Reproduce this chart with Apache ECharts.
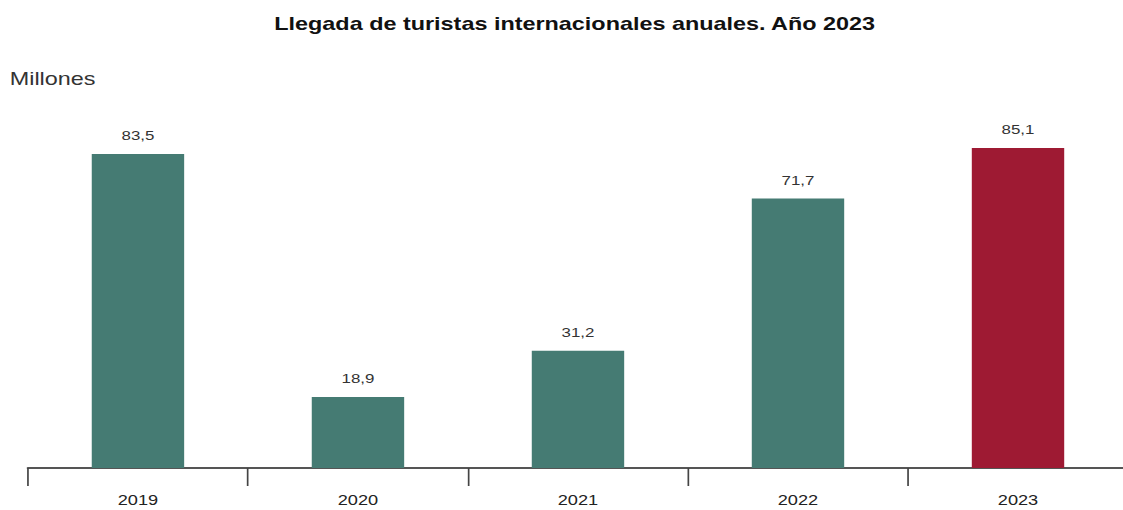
<!DOCTYPE html>
<html>
<head>
<meta charset="utf-8">
<script src="https://cdn.jsdelivr.net/npm/echarts@6/dist/echarts.min.js"></script>
<style>
html,body{margin:0;padding:0;background:#fff;overflow:hidden;width:1123px;height:510px}
#c{width:870px;height:510px;transform:scaleX(1.3);transform-origin:0 0}
</style>
</head>
<body>
<div id="c"></div>
<script>
const categories = ['2019', '2020', '2021', '2022', '2023'];
const values = [83.5, 18.9, 31.2, 71.7, 85.1];
const barColors = ['#457b73', '#457b73', '#457b73', '#457b73', '#9e1a33'];

const FONT = 'Arial, "Liberation Sans", sans-serif';
const chart = echarts.init(document.getElementById('c'), null, { renderer: 'svg' });
chart.setOption({
  animation: false,
  backgroundColor: '#fff',
  title: [{
    text: 'Llegada de turistas internacionales anuales. Año 2023',
    left: 211, top: 15, padding: 0,
    textStyle: { fontFamily: FONT, fontSize: 18, fontWeight: 'bold', color: '#111' }
  }, {
    text: 'Millones',
    left: 7.5, top: 70, padding: 0,
    textStyle: { fontFamily: FONT, fontSize: 18, fontWeight: 'normal', color: '#333' }
  }],
  grid: { left: 21.5, right: 2.3, top: 92, bottom: 42 },
  xAxis: {
    type: 'category',
    data: categories,
    axisLine: { lineStyle: { color: '#555', width: 2 } },
    axisTick: { show: true, length: 18, lineStyle: { color: '#444', width: 1.3 } },
    axisLabel: { fontFamily: FONT, fontSize: 14, color: '#222', margin: 25 }
  },
  yAxis: {
    type: 'value', min: 0, max: 100, show: false
  },
  series: [{
    type: 'bar',
    data: values.map((v, i) => ({ value: v, itemStyle: { color: barColors[i] } })),
    barWidth: '42%',
    label: {
      show: true, position: 'top', distance: 12,
      formatter: p => String(p.value).replace('.', ','),
      fontFamily: FONT, fontSize: 13, color: '#333'
    }
  }]
});
</script>
</body>
</html>
